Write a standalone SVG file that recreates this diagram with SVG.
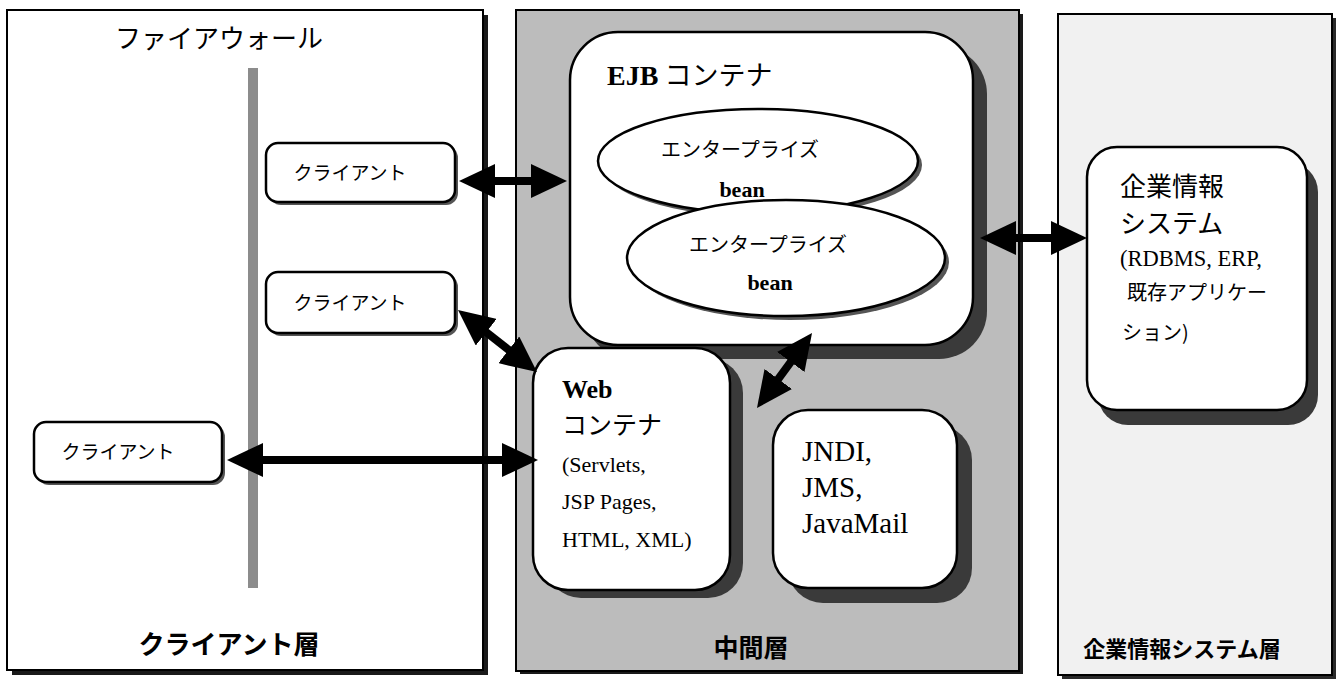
<svg xmlns="http://www.w3.org/2000/svg" width="1340" height="679" viewBox="0 0 1340 679">
<defs>
<marker id="ah" viewBox="0 0 36 34" refX="16" refY="17" markerWidth="36" markerHeight="34" markerUnits="userSpaceOnUse" orient="auto-start-reverse"><path d="M0,0 L36,17 L0,34 Z" fill="#000"/></marker>
</defs>
<style>
.jp{font-family:"Noto Sans CJK JP",sans-serif;fill:#000}
.srf{font-family:"Liberation Serif","Noto Sans CJK JP",serif;fill:#000}
.b{font-weight:bold}
.box{fill:#fff;stroke:#000;stroke-width:2.5}
.sh{fill:#3a3a3a}
.csh{fill:#555}
.conn{stroke:#000;stroke-width:8;fill:none}
</style>
<rect width="1340" height="679" fill="#fff"/>

<g id="client-tier">
<rect x="12" y="15" width="476" height="660" fill="#1a1a1a"/>
<rect x="7" y="10" width="476" height="660" fill="#fff" stroke="#000" stroke-width="2"/>
<rect x="248" y="68" width="10" height="520" fill="#8c8c8c"/>
<text class="jp" x="219" y="48" font-size="26" text-anchor="middle">ファイアウォール</text>
<text class="jp b" x="229" y="654" font-size="26" text-anchor="middle">クライアント層</text>
</g>

<g id="middle-tier">
<rect x="520" y="14" width="503" height="660" fill="#1a1a1a"/>
<rect x="516" y="10" width="503" height="661" fill="#bcbcbc" stroke="#000" stroke-width="2"/>
<text class="jp b" x="751" y="657" font-size="25" text-anchor="middle" fill="#1a1a1a">中間層</text>
</g>

<g id="eis-tier">
<rect x="1062" y="18" width="274" height="661" fill="#2a2a2a"/>
<rect x="1058" y="14" width="274" height="661" fill="#f1f1f1" stroke="#000" stroke-width="2"/>
<text class="jp b" x="1182" y="657" font-size="22" text-anchor="middle">企業情報システム層</text>
</g>

<g id="client1">
<rect x="269" y="146" width="189" height="59" rx="12" class="csh"/>
<rect x="266" y="143" width="189" height="59" rx="12" class="box"/>
<text class="jp" x="350" y="180" font-size="19" text-anchor="middle">クライアント</text>
</g>
<g id="client2">
<rect x="269" y="275" width="189" height="61" rx="12" class="csh"/>
<rect x="266" y="272" width="189" height="61" rx="12" class="box"/>
<text class="jp" x="350" y="310" font-size="19" text-anchor="middle">クライアント</text>
</g>
<g id="client3">
<rect x="37" y="425" width="188" height="60" rx="12" class="csh"/>
<rect x="34" y="422" width="188" height="60" rx="12" class="box"/>
<text class="jp" x="118" y="459" font-size="19" text-anchor="middle">クライアント</text>
</g>

<g id="ejb-container">
<rect x="584" y="46" width="403" height="313" rx="48" class="sh"/>
<rect x="570" y="32" width="403" height="313" rx="48" class="box"/>
<text x="607" y="85"><tspan class="srf b" font-size="28">EJB</tspan><tspan class="jp" font-size="27"> コンテナ</tspan></text>
</g>
<g id="bean1">
<ellipse cx="762" cy="165" rx="160" ry="52" class="csh"/>
<ellipse cx="758" cy="161" rx="160" ry="52" class="box"/>
<text class="jp" x="740" y="157" font-size="20" text-anchor="middle">エンタープライズ</text>
<text class="srf b" x="742" y="197" font-size="22" text-anchor="middle">bean</text>
</g>
<g id="bean2">
<ellipse cx="790" cy="262" rx="159" ry="58" class="csh"/>
<ellipse cx="786" cy="258" rx="159" ry="58" class="box"/>
<text class="jp" x="768" y="252" font-size="20" text-anchor="middle">エンタープライズ</text>
<text class="srf b" x="770" y="290" font-size="22" text-anchor="middle">bean</text>
</g>

<g id="web-container">
<rect x="546" y="358" width="197" height="240" rx="35" class="sh"/>
<rect x="533" y="348" width="197" height="242" rx="35" class="box"/>
<text class="srf b" x="562" y="398" font-size="26">Web</text>
<text class="jp" x="562" y="434" font-size="25">コンテナ</text>
<text class="srf" x="562" y="472" font-size="22">(Servlets,</text>
<text class="srf" x="562" y="509" font-size="22">JSP Pages,</text>
<text class="srf" x="562" y="547" font-size="22">HTML, XML)</text>
</g>

<g id="services">
<rect x="788" y="425" width="184" height="178" rx="35" class="sh"/>
<rect x="773" y="410" width="184" height="178" rx="35" class="box"/>
<text class="srf" x="802" y="461" font-size="29">JNDI,</text>
<text class="srf" x="802" y="497" font-size="29">JMS,</text>
<text class="srf" x="802" y="533" font-size="29">JavaMail</text>
</g>

<g id="eis">
<rect x="1098" y="162" width="220" height="263" rx="30" class="sh"/>
<rect x="1087" y="147" width="220" height="263" rx="30" class="box"/>
<text class="jp" x="1120" y="196" font-size="26">企業情報</text>
<text class="jp" x="1120" y="233" font-size="26">システム</text>
<text class="srf" x="1120" y="266" font-size="22.5">(RDBMS, ERP,</text>
<text class="jp" x="1127" y="300" font-size="20">既存アプリケー</text>
<text class="jp" x="1122" y="340" font-size="20">ション)</text>
</g>

<g id="connectors">
<line x1="479" y1="181" x2="547" y2="181" class="conn" marker-start="url(#ah)" marker-end="url(#ah)"/>
<line x1="473.7" y1="322.3" x2="521.3" y2="359.7" class="conn" marker-start="url(#ah)" marker-end="url(#ah)"/>
<line x1="247" y1="460" x2="518" y2="460" class="conn" marker-start="url(#ah)" marker-end="url(#ah)"/>
<line x1="768.8" y1="391.9" x2="800.2" y2="349.1" class="conn" marker-start="url(#ah)" marker-end="url(#ah)"/>
<line x1="1000" y1="238" x2="1067" y2="238" class="conn" marker-start="url(#ah)" marker-end="url(#ah)"/>
</g>
</svg>
